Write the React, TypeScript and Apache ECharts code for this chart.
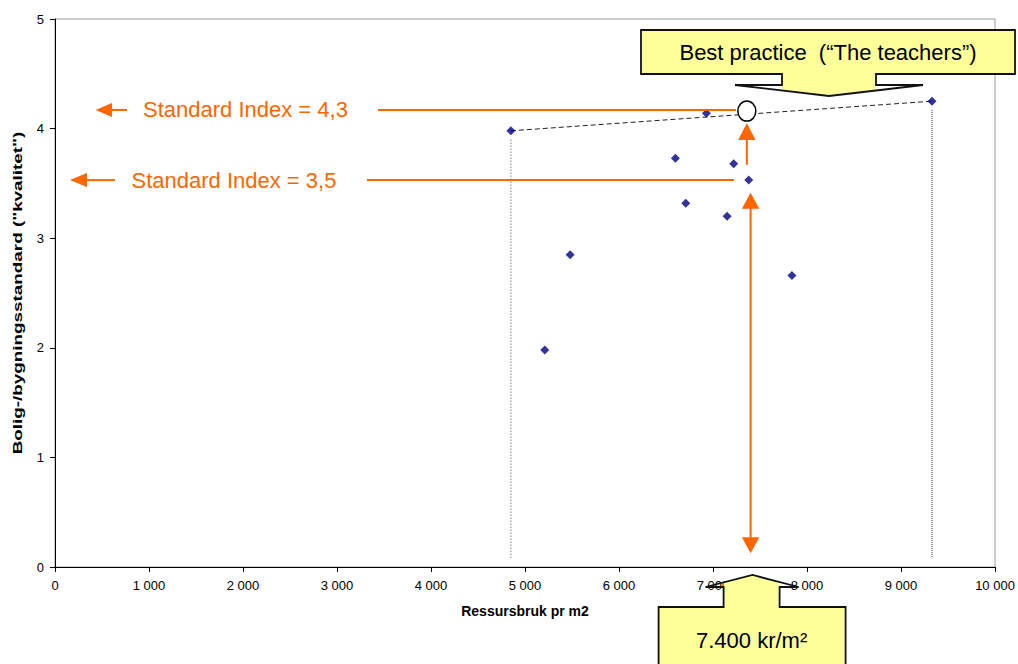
import React, { useEffect, useRef } from "react";
import * as echarts from "echarts";

// ---- data ----
const xValues = [4850, 6930, 6600, 7220, 7380, 6710, 7150, 5480, 5210, 7840, 9330];
const yValues = [3.98, 4.14, 3.73, 3.68, 3.53, 3.32, 3.2, 2.85, 1.98, 2.66, 4.25];
const frontierX = [4850, 9330];
const frontierY = [3.98, 4.25];
const bestPracticePoint = [7360, 4.16];
const targetCost = 7400;
const standardHighY = 4.17;
const standardLowY = 3.53;
const standardHighLabel = "Standard Index = 4,3";
const standardLowLabel = "Standard Index = 3,5";
const calloutTopLabel = "Best practice  (\u201CThe teachers\u201D)";
const calloutBottomLabel = "7.400 kr/m\u00B2";
const xAxisName = "Ressursbruk pr m2";
const yAxisName = "Bolig-/bygningsstandard (\"kvalitet\")";
const xTicks = { min: 0, max: 10000, step: 1000 };
const yTicks = { min: 0, max: 5, step: 1 };

const FONT = "'Liberation Sans', Arial, Helvetica, sans-serif";
const ORANGE = "#FF6600";
const YELLOW = "#FFFF99";

function fmtThousands(v: number): string {
  return String(v).replace(/\B(?=(\d{3})+(?!\d))/g, " ");
}

export default function App() {
  const ref = useRef<HTMLDivElement>(null);
  useEffect(() => {
    if (!ref.current) return;
    const chart = echarts.init(ref.current, undefined, { renderer: "svg" });
    const points = xValues.map((x, i) => [x, yValues[i]]);
    const frontier = frontierX.map((x, i) => [x, frontierY[i]]);
    chart.setOption({
      animation: false,
      backgroundColor: "#fff",
      textStyle: { fontFamily: FONT },
      grid: {
        left: 55,
        right: 23,
        top: 19,
        bottom: 97,
        show: true,
        borderColor: "#9a9a9a",
        borderWidth: 1,
        backgroundColor: "transparent",
      },
      xAxis: {
        type: "value",
        min: xTicks.min,
        max: xTicks.max,
        interval: xTicks.step,
        name: xAxisName,
        nameLocation: "middle",
        nameGap: 37,
        nameTextStyle: { fontWeight: "bold", fontSize: 14, color: "#000", fontFamily: FONT },
        axisLine: { lineStyle: { color: "#000", width: 1 } },
        axisTick: { show: true, inside: false, length: 5, lineStyle: { color: "#000" } },
        axisLabel: { color: "#000", fontSize: 13, margin: 12, formatter: (v: number) => fmtThousands(v), fontFamily: FONT },
        splitLine: { show: false },
      },
      yAxis: {
        type: "value",
        min: yTicks.min,
        max: yTicks.max,
        interval: yTicks.step,
        axisLine: { show: true, lineStyle: { color: "#000", width: 1 } },
        axisTick: { show: true, inside: false, length: 5, lineStyle: { color: "#000" } },
        axisLabel: { color: "#000", fontSize: 13, margin: 11, fontFamily: FONT },
        splitLine: { show: false },
      },
      series: [
        {
          type: "line",
          data: [[frontierX[0], frontierY[0] - 0.08], [frontierX[0], 0.08]],
          symbol: "none",
          lineStyle: { color: "#aaaaaa", type: "dotted", width: 1.5 },
          z: 1,
        },
        {
          type: "line",
          data: [[frontierX[1], frontierY[1] - 0.08], [frontierX[1], 0.08]],
          symbol: "none",
          lineStyle: { color: "#333", type: "dotted", width: 1 },
          z: 1,
        },
        {
          type: "line",
          data: frontier,
          symbol: "none",
          lineStyle: { color: "#222", type: [5, 3], width: 1 },
          z: 2,
        },
        {
          type: "scatter",
          data: points,
          symbol: "diamond",
          symbolSize: 9,
          itemStyle: { color: "#000080" },
          z: 5,
        },
      ],
    });

    const px = (x: number, y: number) => chart.convertToPixel({ gridIndex: 0 }, [x, y]) as number[];
    const [cx, cy] = px(bestPracticePoint[0], bestPracticePoint[1]);
    const yHigh = px(0, standardHighY)[1];
    const yLow = px(0, standardLowY)[1];
    const tx = px(targetCost, 0)[0];
    const upFrom = px(0, 3.67)[1];
    const upTip = px(0, 4.05)[1];
    const dTop = px(0, 3.415)[1];
    const dBot = px(0, 0.125)[1];
    const yMid = (px(0, yTicks.min)[1] + px(0, yTicks.max)[1]) / 2;

    const orangeLine = (x1: number, y1: number, x2: number, y2: number) => ({
      type: "line",
      shape: { x1, y1, x2, y2 },
      style: { stroke: ORANGE, lineWidth: 2 },
      z: 100,
    });
    const tri = (pts: number[][]) => ({
      type: "polygon",
      shape: { points: pts },
      style: { fill: ORANGE, stroke: null },
      z: 100,
    });
    const orangeText = (x: number, y: number, text: string) => ({
      type: "text",
      x,
      y,
      style: { text, fill: ORANGE, fontSize: 22, fontFamily: FONT, textAlign: "left", textVerticalAlign: "middle" },
      z: 100,
    });

    // top callout geometry
    const bx0 = 641, bx1 = 1015, by0 = 30, by1 = 74;
    const sL = 782, sR = 876, shY = 85, wL = 735, wR = 923, tipX = 829, tipY = 96;
    const dl = shY + ((sL - wL) / (tipX - wL)) * (tipY - shY);
    const dr = shY + ((wR - sR) / (wR - tipX)) * (tipY - shY);
    // bottom callout geometry
    const bTipX = tx + 2, bTipY = 575;
    const bsL = tx - 27, bsR = tx + 29, bShY = 587, bwL = tx - 45, bwR = tx + 48, bBoxT = 607, bBoxL = tx - 92, bBoxR = tx + 95, bBoxB = 690;
    const bdl = bTipY + ((bTipX - bsL) / (bTipX - bwL)) * (bShY - bTipY);
    const bdr = bTipY + ((bsR - bTipX) / (bwR - bTipX)) * (bShY - bTipY);

    chart.setOption({
      graphic: [
        // y axis title (stretched along its length like the original)
        {
          type: "text",
          x: 17,
          y: yMid,
          rotation: Math.PI / 2,
          scaleX: 1.45,
          style: { text: yAxisName, fill: "#000", fontSize: 13, fontWeight: "bold", fontFamily: FONT, textAlign: "center", textVerticalAlign: "middle" },
          z: 50,
        },
        // orange horizontal guide lines
        orangeLine(378, yHigh, cx - 11, yHigh),
        orangeLine(367, yLow, cx - 13, yLow),
        // left arrows
        orangeLine(112, yHigh, 127, yHigh),
        tri([[95.7, yHigh], [112, yHigh - 7], [112, yHigh + 7]]),
        orangeLine(87, yLow, 115, yLow),
        tri([[70, yLow], [87, yLow - 7], [87, yLow + 7]]),
        orangeText(143, yHigh, standardHighLabel),
        orangeText(131.5, yLow, standardLowLabel),
        // up arrow to best practice
        orangeLine(cx, upFrom, cx, upTip + 16),
        tri([[cx, upTip], [cx - 8.7, upTip + 17], [cx + 8.7, upTip + 17]]),
        // double arrow at target cost
        orangeLine(tx, dTop + 15, tx, dBot - 15),
        tri([[tx, dTop], [tx - 8.7, dTop + 16], [tx + 8.7, dTop + 16]]),
        tri([[tx, dBot], [tx - 8.7, dBot - 16], [tx + 8.7, dBot - 16]]),
        // best practice circle
        {
          type: "ellipse",
          shape: { cx, cy, rx: 9, ry: 10 },
          style: { fill: "#fff", stroke: "#000", lineWidth: 1.5 },
          z: 101,
        },
        // top callout fill
        {
          type: "polygon",
          shape: {
            points: [
              [bx0, by0], [bx1, by0], [bx1, by1], [sR, by1], [sR, dr], [tipX, tipY], [sL, dl], [sL, by1], [bx0, by1],
            ],
          },
          style: { fill: YELLOW, stroke: null },
          z: 102,
        },
        {
          type: "polygon",
          shape: {
            points: [
              [sL, by1], [bx0, by1], [bx0, by0], [bx1, by0], [bx1, by1], [sR, by1], [sR, shY], [wR, shY], [tipX, tipY], [wL, shY], [sL, shY],
            ],
          },
          style: { fill: null, stroke: "#111", lineWidth: 1.8 },
          z: 103,
        },
        {
          type: "text",
          x: 828,
          y: 52,
          style: { text: calloutTopLabel, fill: "#000", fontSize: 22, fontFamily: FONT, textAlign: "center", textVerticalAlign: "middle" },
          z: 104,
        },
        // bottom callout fill
        {
          type: "polygon",
          shape: {
            points: [
              [bsL, bdl], [bTipX, bTipY], [bsR, bdr], [bsR, bBoxT], [bBoxR, bBoxT], [bBoxR, bBoxB], [bBoxL, bBoxB], [bBoxL, bBoxT], [bsL, bBoxT],
            ],
          },
          style: { fill: YELLOW, stroke: null },
          z: 102,
        },
        {
          type: "polyline",
          shape: {
            points: [
              [bBoxL, bBoxB], [bBoxL, bBoxT], [bsL, bBoxT], [bsL, bShY], [bwL, bShY], [bTipX, bTipY], [bwR, bShY], [bsR, bShY], [bsR, bBoxT], [bBoxR, bBoxT], [bBoxR, bBoxB],
            ],
          },
          style: { fill: null, stroke: "#111", lineWidth: 1.8 },
          z: 103,
        },
        {
          type: "text",
          x: tx + 1,
          y: 640,
          style: { text: calloutBottomLabel, fill: "#000", fontSize: 22, fontFamily: FONT, textAlign: "center", textVerticalAlign: "middle" },
          z: 104,
        },
      ],
    });

    return () => chart.dispose();
  }, []);
  return (
    <div
      ref={ref}
      style={{ position: "fixed", left: 0, top: 0, width: 1018, height: 664, background: "#fff" }}
    />
  );
}
